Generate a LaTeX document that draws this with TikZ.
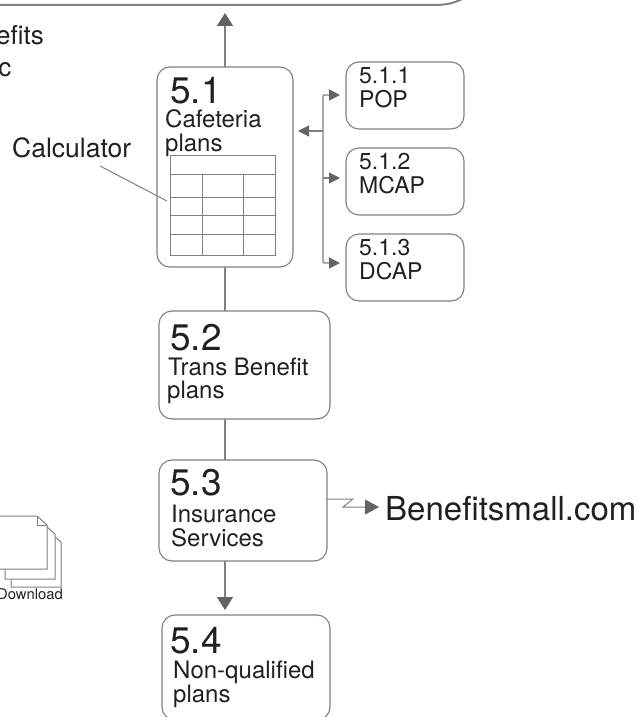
\documentclass[tikz,border=0pt]{standalone}
\usepackage{fontspec}
\setmainfont{TeX Gyre Heros}
\usetikzlibrary{arrows.meta}
\definecolor{ln}{HTML}{808080}
\definecolor{ah}{HTML}{636363}
\definecolor{tx}{HTML}{231F20}
\tikzset{
 box/.style={draw=ln,line width=1.1pt,rounded corners=13pt,inner sep=0pt,outer sep=0pt},
 conn/.style={draw=ln,line width=1.2pt},
 big/.style={-{Triangle[length=13pt,width=16pt,color=ah]}},
 small/.style={-{Triangle[length=11pt,width=11pt,color=ah]}},
 mid/.style={-{Triangle[length=14pt,width=15pt,color=ah]}},
 lab/.style={inner sep=0pt,anchor=base west,text=tx},
 labe/.style={inner sep=0pt,anchor=base east,text=tx},
 gridl/.style={draw=ln,line width=1pt},
 pg/.style={draw=ln,line width=1pt,fill=white},
}
\newcommand{\fs}[1]{\fontsize{#1}{#1}\selectfont}
\begin{document}
\begin{tikzpicture}[x=1pt,y=-1pt]
\useasboundingbox (0,0) rectangle (641,717);
\clip (0,0) rectangle (641,717);
% top box
\draw[draw=ln,line width=2pt] (-20,5) -- (432,5) .. controls (445,5) and (453,4) .. (464,-2);
% boxes
\node[box,minimum width=136pt,minimum height=200pt] (b51) at (225,167) {};
\node[box,minimum width=171pt,minimum height=108pt] (b52) at (244.5,365) {};
\node[box,minimum width=168pt,minimum height=101pt] (b53) at (243,510.5) {};
\node[box,minimum width=168pt,minimum height=105pt] (b54) at (246,667.5) {};
\node[box,minimum width=118pt,minimum height=67pt] (b511) at (405,95.5) {};
\node[box,minimum width=118pt,minimum height=67pt] (b512) at (405,181.5) {};
\node[box,minimum width=118pt,minimum height=67pt] (b513) at (405,267.5) {};
% free connector ends
\coordinate (topTip) at (225,13);
\coordinate (b4tip) at (225,610);
\coordinate (hub) at (323,131);
\coordinate (inTip) at (298,131);
\coordinate (t1) at (340,95);
\coordinate (t2) at (340,178);
\coordinate (t3) at (340,263);
\draw[conn,big] (b51.north) -- (topTip);
\draw[conn] (b51.south) -- (b51.south |- b52.north);
\draw[conn] (b51.south |- b52.south) -- (b51.south |- b53.north);
\draw[conn,big] (b51.south |- b53.south) -- (b4tip);
% sub-box bus
\draw[conn,small] (hub) -- (inTip);
\draw[conn,small,rounded corners=1pt] (hub) |- (t1);
\draw[conn,small] (hub |- t2) -- (t2);
\draw[conn,small,rounded corners=1pt] (hub) |- (t3);
% grid
\draw[gridl] (170,155) rectangle (275,255);
\foreach \y in {174.5,197,215,234}{\draw[gridl] (170,\y) -- (275,\y);}
\foreach \x in {202,243}{\draw[gridl] (\x,174.5) -- (\x,255);}
% Calculator
\draw[draw=ln,line width=1pt] (100,166) -- (167,201);
\node[lab] (calc) at (12,157) {\fs{26.5}Calculator};
% text
\node[lab] (t51) at (170,103) {\fs{37}5.1};
\node[lab] (t51a) at (165,127) {\fs{24}Cafeteria};
\node[lab] (t51b) at (165,151) {\fs{24}plans};
\node[lab] (t52) at (170,350) {\fs{37}5.2};
\node[lab] (t52a) at (168,375) {\fs{24}Trans Benefit};
\node[lab] (t52b) at (167,398) {\fs{24}plans};
\node[lab] (t53) at (170,495) {\fs{37}5.3};
\node[lab] (t53a) at (171,522) {\fs{24}Insurance};
\node[lab] (t53b) at (171,546) {\fs{24}Services};
\node[lab] (t54) at (170,653) {\fs{37}5.4};
\node[lab] (t54a) at (173,678) {\fs{24}Non-qualified};
\node[lab] (t54b) at (173,702) {\fs{24}plans};
\node[lab] (t511) at (359,83) {\fs{23}5.1.1};
\node[lab] (t511a) at (359,107) {\fs{23}POP};
\node[lab] (t512) at (359,169) {\fs{23}5.1.2};
\node[lab] (t512a) at (359,193) {\fs{23}MCAP};
\node[lab] (t513) at (359,255) {\fs{23}5.1.3};
\node[lab] (t513a) at (359,279) {\fs{23}DCAP};
\node[labe] (efits) at (44,45) {\fs{26}efits};
\node[labe] (cc) at (11.5,77) {\fs{26}c};
% Benefitsmall
\coordinate (bmTip) at (379,507);
\draw[draw=ln,line width=1pt,mid] (b53.east |- 0,499) -- (353,499) -- (343,507) -- (bmTip);
\node[lab] (bm) at (385,520) {\fs{33}Benefitsmall.com};
% Download pages
\draw[pg] (-10,530) -- (55,537) -- (61,542) -- (61,587) -- (11,587) -- (11,570);
\draw[pg] (-10,527) -- (47,527) -- (55,534) -- (55,579) -- (5,579) -- (5,560);
\draw[pg] (-10,516) -- (37,516) -- (47,525) -- (47,569) -- (-10,569);
\draw[draw=ln,line width=1pt] (37,516) -- (37,525) -- (47,525);
\node[labe] (dl) at (63,599) {\fs{14.8}Download};
\end{tikzpicture}
\end{document}
